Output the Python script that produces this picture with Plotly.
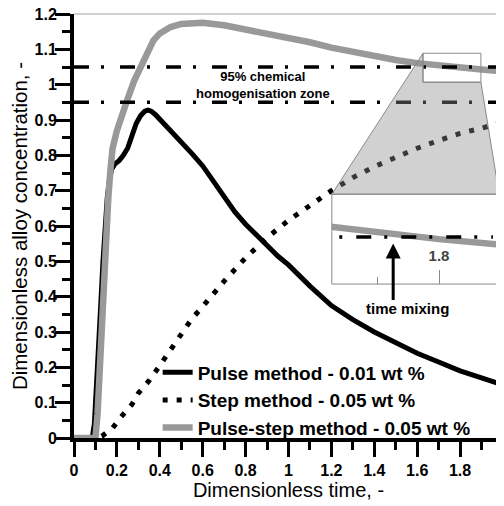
import plotly.graph_objects as go

# ---------------- data ----------------
pulse_t = [0, 0.085, 0.095, 0.105, 0.115, 0.125, 0.135, 0.145, 0.155, 0.165, 0.175,
           0.19, 0.21, 0.23, 0.25, 0.27, 0.29, 0.31, 0.33, 0.345, 0.36, 0.38, 0.42,
           0.46, 0.5, 0.55, 0.6, 0.65, 0.7, 0.75, 0.8, 0.85, 0.9, 0.95, 1.0, 1.1,
           1.2, 1.3, 1.4, 1.5, 1.6, 1.7, 1.8, 1.9, 2.0]
pulse_c = [0, 0, 0.04, 0.14, 0.26, 0.38, 0.5, 0.6, 0.68, 0.73, 0.76,
           0.775, 0.785, 0.80, 0.82, 0.855, 0.89, 0.912, 0.925, 0.928, 0.925, 0.915, 0.89,
           0.865, 0.84, 0.805, 0.77, 0.725, 0.68, 0.64, 0.605, 0.575, 0.545, 0.515, 0.49, 0.43,
           0.375, 0.335, 0.30, 0.27, 0.24, 0.215, 0.19, 0.17, 0.15]

step_t = [0, 0.11, 0.13, 0.18, 0.22, 0.27, 0.3, 0.35, 0.4, 0.45, 0.5, 0.55, 0.6, 0.7,
          0.8, 0.9, 1.0, 1.1, 1.2, 1.3, 1.4, 1.5, 1.6, 1.7, 1.8, 1.9, 2.0]
step_c = [0, 0, 0.005, 0.028, 0.06, 0.095, 0.127, 0.162, 0.205, 0.25, 0.294, 0.338, 0.372, 0.444,
          0.51, 0.567, 0.616, 0.66, 0.70, 0.737, 0.768, 0.794, 0.82, 0.842, 0.862, 0.877, 0.893]

pstep_t = [0, 0.1, 0.11, 0.12, 0.13, 0.14, 0.15, 0.16, 0.17, 0.18, 0.2, 0.22, 0.25, 0.28,
           0.31, 0.34, 0.37, 0.4, 0.45, 0.5, 0.55, 0.6, 0.7, 0.8, 0.9, 1.0, 1.1, 1.2, 1.3,
           1.4, 1.5, 1.6, 1.7, 1.8, 1.9, 2.0]
pstep_c = [0, 0, 0.07, 0.2, 0.34, 0.46, 0.58, 0.68, 0.76, 0.82, 0.87, 0.91, 0.96, 1.01,
           1.05, 1.095, 1.125, 1.145, 1.163, 1.172, 1.175, 1.175, 1.168, 1.157, 1.145, 1.132,
           1.12, 1.105, 1.092, 1.08, 1.07, 1.061, 1.054, 1.048, 1.043, 1.038]

zone_bounds = [0.95, 1.05]
zone_label = "95% chemical<br>homogenisation zone"
series_names = ["Pulse method - 0.01 wt %", "Step method - 0.05 wt %",
                "Pulse-step method - 0.05 wt %"]

# zoom window shown in the inset
zoom_x = [1.627, 1.897]
zoom_y = [1.007, 1.089]
inset_ticks = [1.8]
inset_minor = [1.7]
mixing_t = 1.726
mixing_c = 1.044

x_range = [0, 2]
y_range = [0, 1.2]

# ---------------- figure ----------------
BLACK = "#000000"
GREY = "#999999"
DASH = "15px,12px,3px,16px"
BOLD = "Liberation Sans, Arial, sans-serif"

inset_xdom = [0.601, 0.991]
inset_ydom = [0.363, 0.575]

fig = go.Figure()

fig.add_trace(go.Scatter(x=pulse_t, y=pulse_c, mode="lines", name=series_names[0],
                         line=dict(color=BLACK, width=5), cliponaxis=False))
fig.add_trace(go.Scatter(x=step_t, y=step_c, mode="lines", name=series_names[1],
                         line=dict(color=BLACK, width=5, dash="5px,9px"), cliponaxis=False))
fig.add_trace(go.Scatter(x=pstep_t, y=pstep_c, mode="lines", name=series_names[2],
                         line=dict(color=GREY, width=6.5), cliponaxis=False))
for b in zone_bounds:
    fig.add_trace(go.Scatter(x=x_range, y=[b, b], mode="lines", showlegend=False,
                             line=dict(color=BLACK, width=3.5, dash=DASH), hoverinfo="skip"))

# inset traces
fig.add_trace(go.Scatter(x=pstep_t, y=pstep_c, mode="lines", showlegend=False,
                         xaxis="x2", yaxis="y2", line=dict(color=GREY, width=6.5)))
fig.add_trace(go.Scatter(x=[zoom_x[0] + 0.012, zoom_x[1] - 0.01], y=[zone_bounds[1]] * 2,
                         mode="lines", showlegend=False, xaxis="x2", yaxis="y2",
                         line=dict(color=BLACK, width=3.5, dash="3px,14px,15px,13px")))

# connector polygon between zoom box and inset (inset corners expressed in main data coords)
ix0 = x_range[0] + inset_xdom[0] * (x_range[1] - x_range[0])
ix1 = x_range[0] + inset_xdom[1] * (x_range[1] - x_range[0])
iy1 = y_range[0] + inset_ydom[1] * (y_range[1] - y_range[0])
path = (f"M {zoom_x[0]},{zoom_y[1]} L {zoom_x[0]},{zoom_y[0]} L {zoom_x[1]},{zoom_y[0]} "
        f"L {ix1},{iy1} L {ix0},{iy1} Z")

shapes = [
    dict(type="path", path=path, xref="x", yref="y", fillcolor="rgba(140,140,140,0.4)",
         line=dict(color="#8a8a8a", width=1), layer="above"),
    dict(type="rect", xref="x", yref="y", x0=zoom_x[0], x1=zoom_x[1], y0=zoom_y[0], y1=zoom_y[1],
         line=dict(color="#8a8a8a", width=1), layer="above"),
    dict(type="rect", xref="x2 domain", yref="y2 domain", x0=0, x1=1, y0=0, y1=1,
         line=dict(color="#8a8a8a", width=1), layer="above"),
    dict(type="line", xref="paper", yref="paper", x0=0, x1=1, y0=1, y1=1,
         line=dict(color="#a0a0a0", width=1)),
    dict(type="line", xref="paper", yref="paper", x0=1, x1=1, y0=0, y1=1,
         line=dict(color="#a0a0a0", width=1)),
]

annotations = [
    dict(x=0.88, y=1.0, xref="x", yref="y", text=zone_label, showarrow=False,
         font=dict(family=BOLD, size=13, color=BLACK, weight="bold")),
    dict(x=mixing_t, y=mixing_c, xref="x2", yref="y2", text="", showarrow=True,
         ax=0, ay=58, arrowhead=2, arrowsize=1, arrowwidth=3, arrowcolor=BLACK, standoff=0),
    dict(x=mixing_t, y=mixing_c, xref="x2", yref="y2", text="time mixing", showarrow=False,
         xanchor="center", yanchor="middle", xshift=14, yshift=-65,
         font=dict(family=BOLD, size=15, color=BLACK, weight="bold")),
]

# the page body has an 8px default margin; size the figure so the plot lands where the reference has it
fig.update_layout(
    width=496, height=498,
    margin=dict(l=66, r=1, t=6, b=68, autoexpand=False),
    paper_bgcolor="white", plot_bgcolor="white",
    font=dict(family=BOLD, color=BLACK),
    showlegend=True,
    legend=dict(x=0.195, y=-0.022, xanchor="left", yanchor="bottom",
                bgcolor="rgba(0,0,0,0)", font=dict(size=19, weight="bold")),
    shapes=shapes, annotations=annotations,
    xaxis=dict(range=x_range, dtick=0.2, tick0=0, showgrid=False, zeroline=False,
               automargin=False, ticklabeloverflow="allow",
               showline=True, linecolor=BLACK, linewidth=4, layer="below traces",
               ticks="outside", ticklen=15, tickwidth=3, tickcolor=BLACK,
               minor=dict(dtick=0.1, ticks="outside", ticklen=8, tickwidth=3, tickcolor=BLACK),
               tickfont=dict(size=16, weight="bold"),
               title=dict(text="Dimensionless time, -", font=dict(size=20, weight="normal"),
                          standoff=6)),
    yaxis=dict(range=y_range, dtick=0.1, tick0=0, showgrid=False, zeroline=False,
               automargin=False, ticklabeloverflow="allow",
               showline=True, linecolor=BLACK, linewidth=4, layer="below traces",
               ticks="outside", ticklen=15, tickwidth=3, tickcolor=BLACK,
               ticklabelstandoff=-5,
               minor=dict(dtick=0.05, ticks="outside", ticklen=8, tickwidth=3, tickcolor=BLACK),
               tickfont=dict(size=16, weight="bold"),
               title=dict(text="Dimensionless alloy concentration, -",
                          font=dict(size=20.5, weight="normal"), standoff=8)),
    xaxis2=dict(domain=inset_xdom, anchor="y2", range=zoom_x, showgrid=False, zeroline=False,
                automargin=False, ticklabeloverflow="allow",
                showline=False, tickvals=inset_ticks, ticks="inside", ticklen=14, tickwidth=1,
                tickcolor="#8a8a8a", ticklabelposition="inside", ticklabelstandoff=6,
                minor=dict(tickvals=inset_minor, ticks="inside", ticklen=7, tickwidth=1,
                           tickcolor="#8a8a8a"),
                tickfont=dict(size=15, weight="bold")),
    yaxis2=dict(domain=inset_ydom, anchor="x2", range=zoom_y, showgrid=False, zeroline=False,
                automargin=False,
                showline=False, showticklabels=False, ticks=""),
)

fig.write_html("out.html")
